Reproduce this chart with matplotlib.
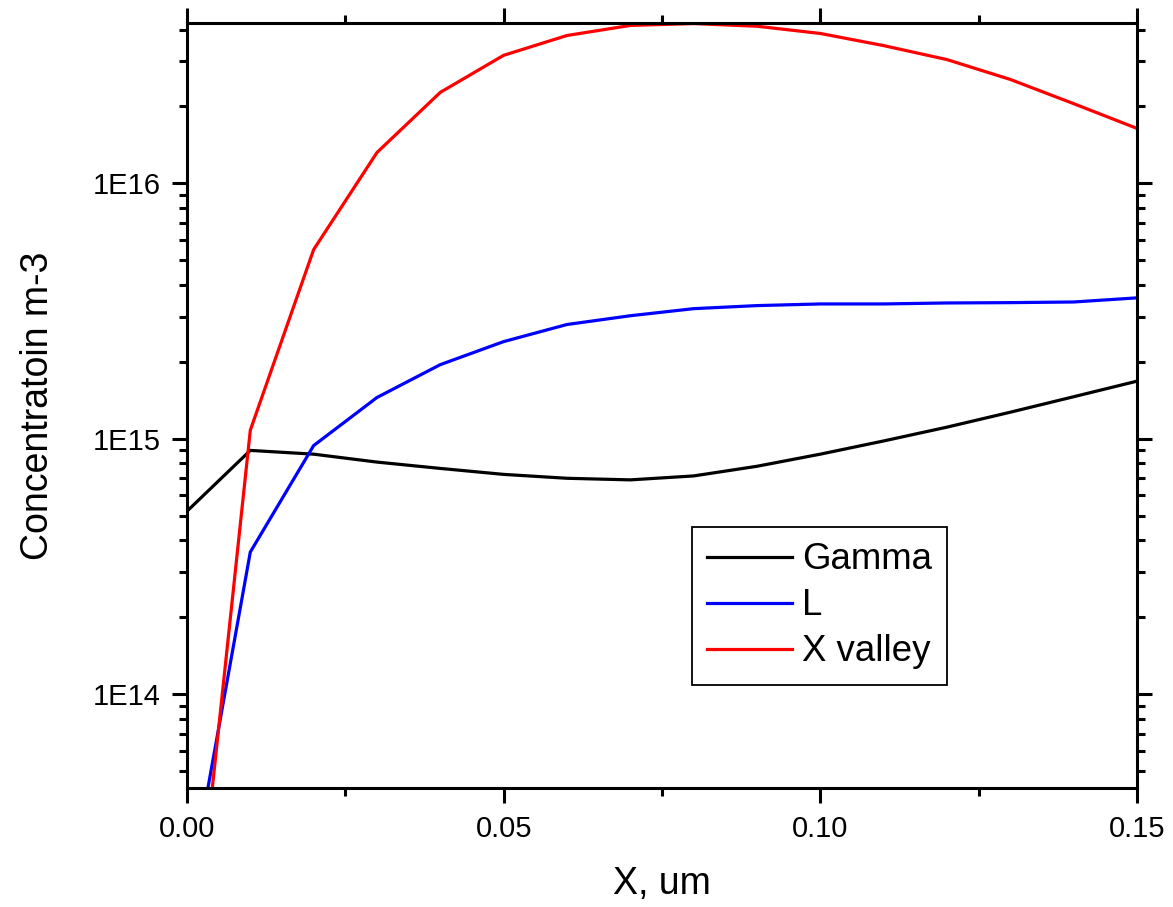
import matplotlib
matplotlib.use("Agg")
import matplotlib.pyplot as plt
from matplotlib.ticker import LogLocator, MultipleLocator, NullFormatter, FixedLocator

plt.rcParams['font.family'] = ['Liberation Sans', 'DejaVu Sans']

# Position along the device, um
x_um = [0.00, 0.01, 0.02, 0.03, 0.04, 0.05, 0.06, 0.07, 0.08,
        0.09, 0.10, 0.11, 0.12, 0.13, 0.14, 0.15]

# Electron concentration per valley, m-3
gamma = [5.2e14, 9.0e14, 8.7e14, 8.1e14, 7.65e14, 7.25e14, 7.0e14, 6.9e14,
         7.15e14, 7.8e14, 8.7e14, 9.8e14, 1.11e15, 1.27e15, 1.46e15, 1.68e15]
l_valley = [1.5e13, 3.6e14, 9.4e14, 1.45e15, 1.95e15, 2.4e15, 2.8e15, 3.03e15,
            3.23e15, 3.32e15, 3.37e15, 3.37e15, 3.40e15, 3.41e15, 3.43e15, 3.56e15]
x_valley = [5.0e12, 1.08e15, 5.5e15, 1.32e16, 2.27e16, 3.17e16, 3.79e16, 4.15e16,
            4.22e16, 4.12e16, 3.86e16, 3.46e16, 3.05e16, 2.55e16, 2.05e16, 1.64e16]

series_labels = ["Gamma", "L", "X valley"]
series_colors = ["#000000", "#0000ff", "#ff0000"]

x_ticks = [0.00, 0.05, 0.10, 0.15]
x_ticklabels = ["0.00", "0.05", "0.10", "0.15"]
y_ticks = [1e14, 1e15, 1e16]
y_ticklabels = ["1E14", "1E15", "1E16"]

fig = plt.figure(figsize=(11.73, 9.07), dpi=100)
ax = fig.add_axes([0.1594, 0.1309, 0.8099, 0.8434])

lw = 2.3
for ys, lab, col in zip([gamma, l_valley, x_valley], series_labels, series_colors):
    ax.plot(x_um, ys, color=col, lw=lw, label=lab, solid_joinstyle='miter')

ax.set_yscale('log')
ax.set_xlim(0.0, 0.15)
ax.set_ylim(4.28e13, 4.23e16)

ax.xaxis.set_major_locator(FixedLocator(x_ticks))
ax.set_xticklabels(x_ticklabels)
ax.xaxis.set_minor_locator(MultipleLocator(0.025))
ax.yaxis.set_major_locator(FixedLocator(y_ticks))
ax.set_yticklabels(y_ticklabels)
ax.yaxis.set_minor_locator(LogLocator(base=10, subs=range(2, 10)))
ax.yaxis.set_minor_formatter(NullFormatter())

for sp in ax.spines.values():
    sp.set_linewidth(2.2)

ax.tick_params(which='both', direction='out', top=True, right=True,
               width=2.2, labelsize=21, pad=8)
ax.tick_params(which='major', length=11)
ax.tick_params(which='minor', length=6)

ax.set_xlabel("X, um", fontsize=27, labelpad=17)
ax.set_ylabel("Concentratoin m-3", fontsize=27, labelpad=26)

leg = ax.legend(loc='upper left', bbox_to_anchor=(0.5316, 0.3416),
                fontsize=26.4, frameon=True, fancybox=False, framealpha=1,
                edgecolor='black', handlelength=2.3, handletextpad=0.27,
                labelspacing=0.3, borderpad=0.42, borderaxespad=0)
leg.get_frame().set_linewidth(1.3)

fig.savefig("out.png", dpi=100, facecolor='white')
